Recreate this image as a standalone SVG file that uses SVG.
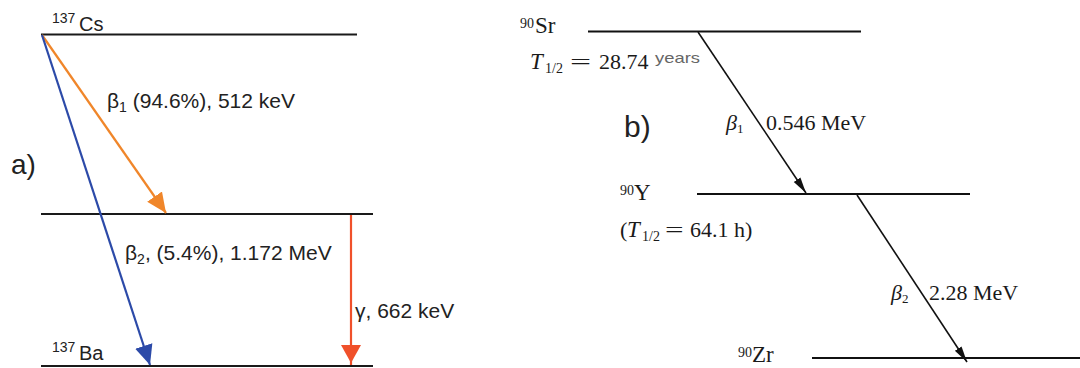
<svg xmlns="http://www.w3.org/2000/svg" width="1080" height="368" viewBox="0 0 1080 368">
<style>
.lvl{stroke:#1a1a1a;stroke-width:2.2;fill:none}
.lvlb{stroke:#111;stroke-width:2;fill:none}
.sa{font-family:"Liberation Sans",Arial,sans-serif;fill:#222}
.sb{font-family:"Liberation Serif","Times New Roman",serif;fill:#1a1a1a}
</style>
<defs>
<marker id="hOr" viewBox="0 0 20 20" refX="20" refY="10" markerWidth="20" markerHeight="20" markerUnits="userSpaceOnUse" orient="auto"><path d="M0,1 L20,10 L0,19 z" fill="#F0862A"/></marker>
<marker id="hBl" viewBox="0 0 20 20" refX="20" refY="10" markerWidth="20" markerHeight="20" markerUnits="userSpaceOnUse" orient="auto"><path d="M0,1 L20,10 L0,19 z" fill="#2C4AA8"/></marker>
<marker id="hRd" viewBox="0 0 20 20" refX="20" refY="10" markerWidth="20" markerHeight="20" markerUnits="userSpaceOnUse" orient="auto"><path d="M0,0 L18,10 L0,20 z" fill="#F0502A"/></marker>
<marker id="hBk" viewBox="0 0 16 10" refX="16" refY="5" markerWidth="16" markerHeight="10" markerUnits="userSpaceOnUse" orient="auto"><path d="M0,1 L16,5 L0,9 z" fill="#111"/></marker>
</defs>
<rect width="1080" height="368" fill="#fff"/>

<g id="cs137">
<line class="lvl" x1="41" y1="34.5" x2="357" y2="34.5"/>
<text class="sa" x="52" y="23" font-size="14">137</text>
<text class="sa" x="79" y="31" font-size="20">Cs</text>
</g>
<g id="ba137m">
<line class="lvl" x1="41" y1="214" x2="373" y2="214"/>
</g>
<g id="ba137">
<line class="lvl" x1="41" y1="366" x2="373" y2="366"/>
<text class="sa" x="52" y="352" font-size="14">137</text>
<text class="sa" x="79" y="360" font-size="20">Ba</text>
</g>
<text class="sa" x="11" y="174" font-size="28">a)</text>

<g id="sr90">
<line class="lvlb" x1="588" y1="31.5" x2="861" y2="31.5"/>
<text class="sb" x="520" y="28" font-size="14">90</text>
<text class="sb" x="535" y="33" font-size="23">Sr</text>
<text class="sb" x="530" y="69" font-size="23" font-style="italic">T</text>
<text class="sb" x="545" y="73" font-size="14">1/2</text>
<text class="sb" x="570" y="69" font-size="22" transform="translate(570 0) scale(1.7 1) translate(-570 0)">=</text>
<text class="sb" x="599" y="69" font-size="22">28.74</text>
<text x="655" y="63" font-size="15" fill="#666" font-family="'Liberation Sans',Arial,sans-serif" textLength="45" lengthAdjust="spacingAndGlyphs">years</text>
</g>
<g id="y90">
<line class="lvlb" x1="697" y1="194" x2="970" y2="194"/>
<text class="sb" x="620" y="195" font-size="14">90</text>
<text class="sb" x="634" y="200" font-size="23">Y</text>
<text class="sb" x="620" y="237" font-size="22">(</text>
<text class="sb" x="627" y="237" font-size="23" font-style="italic">T</text>
<text class="sb" x="642" y="241" font-size="14">1/2</text>
<text class="sb" x="665" y="237" font-size="22" transform="translate(665 0) scale(1.5 1) translate(-665 0)">=</text>
<text class="sb" x="690" y="237" font-size="22">64.1</text>
<text class="sb" x="734" y="237" font-size="22">h)</text>
</g>
<g id="zr90">
<line class="lvlb" x1="812" y1="358" x2="1080" y2="358"/>
<text class="sb" x="738" y="357" font-size="14">90</text>
<text class="sb" x="752" y="362" font-size="23">Zr</text>
</g>
<text class="sa" x="624" y="137" font-size="30">b)</text>

<g id="connectors">
<line x1="42" y1="35" x2="166" y2="213" stroke="#F0862A" stroke-width="2.2" marker-end="url(#hOr)"/>
<line x1="42" y1="35" x2="150" y2="365" stroke="#2C4AA8" stroke-width="2.2" marker-end="url(#hBl)"/>
<line x1="351" y1="215" x2="351" y2="365" stroke="#F0502A" stroke-width="2.2" marker-end="url(#hRd)"/>
<line x1="698" y1="32" x2="806" y2="193" stroke="#111" stroke-width="1.6" marker-end="url(#hBk)"/>
<line x1="857" y1="195" x2="967" y2="362" stroke="#111" stroke-width="1.6" marker-end="url(#hBk)"/>
</g>

<g id="labels">
<text class="sa" x="107" y="108" font-size="21">β<tspan font-size="14" dy="4">1</tspan><tspan dy="-4"> (94.6%), 512 keV</tspan></text>
<text class="sa" x="125" y="260" font-size="21">β<tspan font-size="14" dy="4">2</tspan><tspan dy="-4">, (5.4%), 1.172 MeV</tspan></text>
<text class="sa" x="355" y="318" font-size="21">γ, 662 keV</text>
<text class="sb" x="726" y="130" font-size="22"><tspan font-style="italic">β</tspan><tspan font-size="13" dy="3">1</tspan></text>
<text class="sb" x="766" y="130" font-size="22">0.546 MeV</text>
<text class="sb" x="891" y="300" font-size="22"><tspan font-style="italic">β</tspan><tspan font-size="13" dy="3">2</tspan></text>
<text class="sb" x="929" y="300" font-size="22">2.28 MeV</text>
</g>
</svg>
